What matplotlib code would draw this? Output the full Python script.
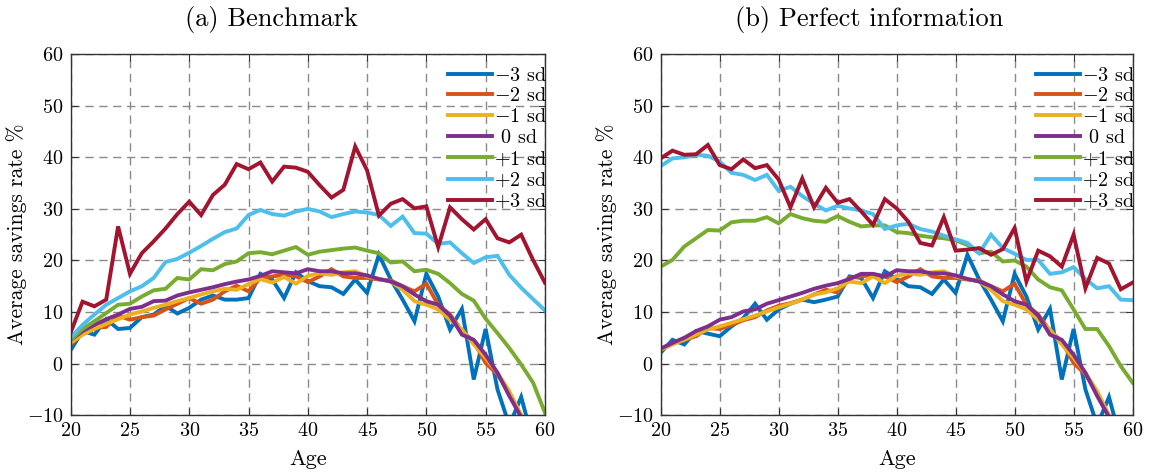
import numpy as np
import matplotlib
matplotlib.use("Agg")
import matplotlib.pyplot as plt

plt.rcParams['font.family'] = 'serif'
plt.rcParams['font.serif'] = ['cmr10']
plt.rcParams['mathtext.fontset'] = 'cm'
plt.rcParams['axes.formatter.use_mathtext'] = True
plt.rcParams['axes.unicode_minus'] = True

ages = np.arange(20, 61)

# (a) Benchmark
bench_m3 = [2.6, 6.3, 5.6, 8.6, 6.7, 6.9, 9.0, 9.5, 11.2, 9.7, 10.8, 12.4, 13.2, 12.4, 12.4, 12.7,
            17.4, 16.3, 12.7, 17.7, 16.0, 15.0, 14.8, 13.5, 16.3, 13.7, 21.1, 16.3, 12.4, 8.2, 17.4,
            13.0, 6.6, 10.6, -3.1, 6.7, -5.0, -12.0, -6.5, -15.0, -20.0]
bench_m2 = [3.7, 5.9, 6.9, 7.1, 9.3, 8.5, 9.0, 9.3, 10.5, 11.6, 12.7, 11.6, 12.4, 14.0, 15.1, 14.0,
            16.6, 16.9, 17.2, 16.9, 15.8, 16.9, 18.3, 16.9, 16.6, 16.6, 16.3, 16.1, 15.0, 14.0, 15.5,
            11.4, 9.5, 6.3, 4.3, 0.1, -2.1, -5.7, -10.2, -15.0, -20.0]
bench_m1 = [4.0, 5.6, 6.7, 7.7, 8.6, 9.5, 10.1, 10.8, 11.4, 12.1, 12.7, 13.4, 14.0, 14.5, 14.3, 15.4,
            16.4, 15.7, 16.8, 15.5, 17.0, 17.5, 17.2, 17.7, 17.9, 16.9, 16.4, 15.9, 14.3, 12.1, 11.4,
            10.5, 8.5, 6.6, 3.7, 1.1, -1.8, -5.4, -10.0, -15.0, -20.0]
bench_0 = [4.6, 6.3, 7.5, 8.6, 9.5, 10.6, 11.0, 12.1, 12.2, 13.2, 13.8, 14.3, 14.8, 15.4, 15.9, 16.3,
           17.0, 17.9, 17.7, 17.5, 18.3, 17.9, 17.9, 17.5, 17.5, 17.1, 16.4, 15.9, 15.0, 13.4, 12.1,
           11.4, 9.3, 5.6, 4.6, 1.7, -1.8, -6.3, -10.4, -15.0, -20.0]
bench_p1 = [4.6, 6.7, 8.2, 9.8, 11.4, 11.6, 13.0, 14.2, 14.5, 16.6, 16.3, 18.3, 18.1, 19.3, 19.8, 21.4,
            21.6, 21.2, 21.9, 22.6, 21.1, 21.7, 22.0, 22.3, 22.5, 21.9, 21.4, 19.6, 19.8, 17.9, 18.2,
            17.4, 15.6, 13.5, 12.2, 8.7, 5.9, 3.0, -0.2, -3.7, -9.5]
bench_p2 = [5.0, 7.5, 9.5, 11.4, 12.7, 14.0, 15.0, 16.6, 19.7, 20.3, 21.5, 22.8, 24.2, 25.5, 26.2, 28.8,
            29.8, 29.0, 28.7, 29.5, 30.0, 29.5, 28.4, 29.0, 29.5, 29.3, 28.8, 26.7, 28.5, 25.3, 25.2,
            23.2, 23.5, 21.4, 19.5, 20.6, 20.9, 17.2, 14.7, 12.5, 10.3]
bench_p3 = [6.0, 12.0, 11.1, 12.4, 26.6, 17.4, 21.4, 23.7, 26.2, 29.0, 31.4, 28.8, 32.7, 34.7, 38.7, 37.7,
            39.0, 35.3, 38.2, 38.0, 37.2, 34.6, 32.2, 33.7, 42.1, 37.5, 28.7, 31.0, 31.9, 30.1, 30.5,
            22.6, 30.3, 28.0, 26.0, 28.0, 24.3, 23.5, 25.0, 20.1, 15.7]

# (b) Perfect information
perf_m3 = [2.1, 4.6, 3.7, 6.3, 5.8, 5.3, 7.2, 8.8, 11.6, 8.5, 10.5, 11.6, 12.4, 11.9, 12.4, 13.0,
           16.9, 16.6, 12.7, 17.9, 16.4, 15.0, 14.8, 13.5, 16.3, 13.7, 21.1, 16.3, 12.4, 8.2, 17.4,
           13.0, 6.6, 10.6, -3.1, 6.7, -5.0, -12.0, -6.5, -15.0, -20.0]
perf_m2 = [2.6, 4.0, 4.6, 5.3, 6.9, 6.7, 7.5, 8.4, 9.0, 10.3, 11.2, 11.7, 12.4, 13.4, 14.3, 13.8,
           16.6, 16.9, 17.2, 16.9, 15.8, 16.9, 18.3, 16.9, 16.6, 16.6, 16.3, 16.1, 15.0, 14.0, 15.5,
           11.4, 9.5, 6.3, 4.3, 0.1, -2.1, -5.7, -10.2, -15.0, -20.0]
perf_m1 = [2.7, 3.7, 4.6, 5.6, 6.6, 7.2, 7.9, 8.6, 9.3, 10.1, 10.9, 11.6, 12.4, 13.4, 13.8, 14.6,
           15.9, 15.6, 16.9, 15.6, 17.0, 17.5, 17.2, 17.7, 17.9, 16.9, 16.4, 15.9, 14.3, 12.1, 11.4,
           10.5, 8.5, 6.6, 3.7, 1.1, -1.8, -5.4, -10.0, -15.0, -20.0]
perf_0 = [2.9, 4.0, 5.0, 6.3, 7.2, 8.5, 9.0, 10.1, 10.5, 11.6, 12.3, 13.0, 13.7, 14.5, 15.1, 15.6,
          16.4, 17.4, 17.4, 16.9, 18.1, 17.9, 17.9, 17.5, 17.5, 17.1, 16.4, 15.9, 15.0, 13.4, 12.1,
          11.4, 9.3, 5.6, 4.6, 1.7, -1.8, -6.3, -10.4, -15.0, -20.0]
perf_p1 = [18.8, 20.1, 22.7, 24.3, 25.9, 25.8, 27.4, 27.7, 27.7, 28.4, 27.2, 29.0, 28.2, 27.7, 27.5, 28.6,
           27.5, 26.6, 26.8, 26.8, 25.5, 25.3, 24.8, 24.5, 24.3, 23.9, 23.0, 21.4, 21.7, 19.8, 20.0,
           18.8, 16.3, 14.8, 14.2, 10.5, 6.7, 6.7, 3.4, -0.5, -3.7]
perf_p2 = [38.3, 39.8, 40.0, 40.5, 40.3, 39.2, 37.0, 36.6, 35.6, 36.6, 33.5, 34.3, 32.5, 31.0, 29.7, 30.6,
           30.1, 29.7, 29.0, 26.1, 26.8, 27.1, 26.1, 25.6, 24.8, 24.1, 23.4, 21.4, 25.0, 22.4, 21.3,
           20.1, 20.1, 17.4, 17.7, 18.7, 16.4, 14.6, 15.0, 12.4, 12.3]
perf_p3 = [39.8, 41.3, 40.5, 40.6, 42.4, 38.5, 37.7, 39.6, 37.9, 38.5, 35.7, 30.3, 35.9, 30.3, 34.1, 31.2,
           31.9, 29.5, 26.9, 31.9, 30.1, 27.5, 23.4, 22.9, 28.4, 21.9, 22.1, 22.4, 21.1, 22.2, 26.3,
           15.9, 21.9, 20.8, 18.8, 25.0, 14.6, 20.5, 19.4, 14.4, 15.7]

labels = ['$-3$ sd', '$-2$ sd', '$-1$ sd', ' $0$ sd', '$+1$ sd', '$+2$ sd', '$+3$ sd']
colors = ['#0072BD', '#D95319', '#EDB120', '#7E2F8E', '#77AC30', '#4DBEEE', '#A2142F']
titles = ['(a) Benchmark', '(b) Perfect information']
title_x = [0.424, 0.441]
panels = [[bench_m3, bench_m2, bench_m1, bench_0, bench_p1, bench_p2, bench_p3],
          [perf_m3, perf_m2, perf_m1, perf_0, perf_p1, perf_p2, perf_p3]]

fig = plt.figure(figsize=(11.51, 4.76), dpi=100)
axes = [fig.add_axes([0.0614, 0.128, 0.412, 0.758]),
        fig.add_axes([0.574, 0.128, 0.410, 0.758])]

for ax, series, title, tx in zip(axes, panels, titles, title_x):
    for s, c, lab in zip(series, colors, labels):
        ax.plot(ages, s, color=c, lw=2.8, label=lab, solid_joinstyle='miter')
    ax.set_xlim(20, 60)
    ax.set_ylim(-10, 60)
    ax.set_xticks(np.arange(20, 61, 5))
    ax.set_yticks(np.arange(-10, 61, 10))
    ax.grid(True, color='#8a8a8a', linestyle=(0, (6, 4)), lw=1.0)
    ax.tick_params(direction='in', top=True, right=True, labelsize=14.5, length=5,
                   color='#333333', pad=5)
    for sp in ax.spines.values():
        sp.set_color('#333333')
        sp.set_linewidth(1.0)
    ax.set_title(title, fontsize=19, pad=20, x=tx)
    ax.set_xlabel('Age', fontsize=16, labelpad=7)
    ax.set_ylabel('Average savings rate %', fontsize=15.5, labelpad=0)
    ax.legend(loc='upper right', frameon=False, fontsize=14.5, handlelength=2.2,
              handletextpad=0.1, labelspacing=0.13, borderaxespad=0.3,
              bbox_to_anchor=(1.035, 1.005))

fig.savefig('out.png', dpi=100)
